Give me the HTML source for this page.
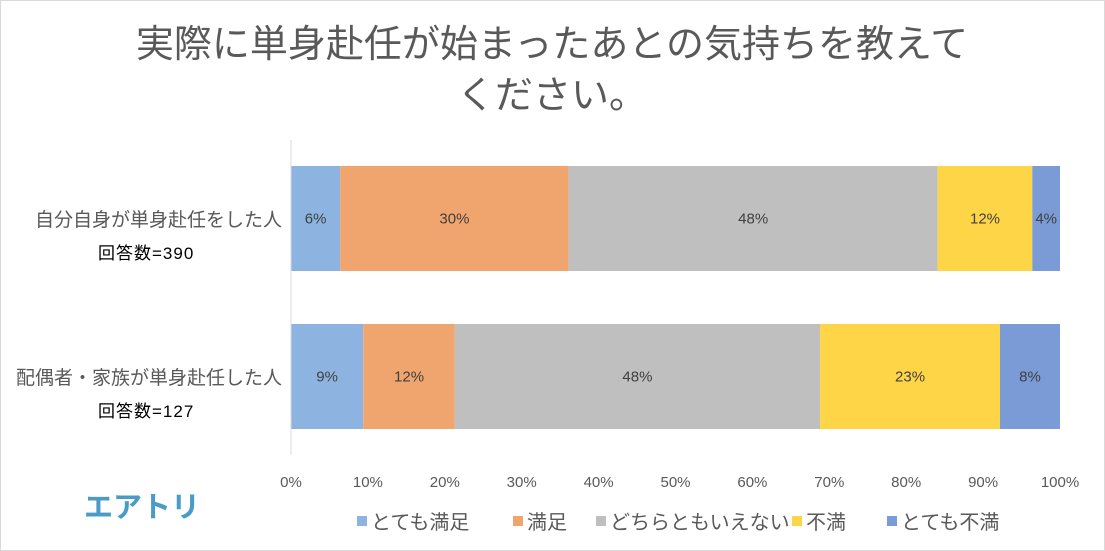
<!DOCTYPE html>
<html><head><meta charset="utf-8"><style>
body{margin:0;width:1105px;height:551px;background:#fff;overflow:hidden;font-family:"Liberation Sans","Noto Sans CJK JP",sans-serif}
#frame{position:absolute;left:0;top:0;width:1103px;height:549px;border:1px solid #d9d9d9}
</style></head><body>
<div id="frame"></div>
<svg id="c" width="1105" height="551" style="position:absolute;left:0;top:0">
<text x="552" y="57" text-anchor="middle" font-size="38" fill="#595959">実際に単身赴任が始まったあとの気持ちを教えて</text>
<text x="552" y="108" text-anchor="middle" font-size="38" fill="#595959">ください。</text>
<text x="142" y="517" text-anchor="middle" font-size="29" font-weight="bold" fill="#4a9cc6">エアトリ</text>
</svg>
<script>
const categories=["自分自身が単身赴任をした人","配偶者・家族が単身赴任した人"];
const counts=["回答数=390","回答数=127"];
const seriesNames=["とても満足","満足","どちらともいえない","不満","とても不満"];
const s1=[6.4,9.4];
const s2=[29.7,11.9];
const s3=[48.0,47.5];
const s4=[12.3,23.4];
const s5=[3.6,7.8];
const ticks=[0,10,20,30,40,50,60,70,80,90,100];
const colors=["#8db4e0","#f0a46e","#bfbfbf","#ffd548","#7a9bd6"];
const series=[s1,s2,s3,s4,s5];
const svg=document.getElementById('c');const NS="http://www.w3.org/2000/svg";
const x0=291,x1=1060;const xs=v=>x0+(x1-x0)*v/100;
const barY=[166,324],barH=105;
function mk(t,a){const e=document.createElementNS(NS,t);for(const k in a)e.setAttribute(k,a[k]);svg.appendChild(e);return e;}
categories.forEach((c,i)=>{
 let acc=0;
 series.forEach((s,j)=>{
  const v=s[i];
  const r=mk('rect',{x:xs(acc),y:barY[i],width:xs(acc+v)-xs(acc),height:barH,fill:colors[j]});
  
  
  const t=mk('text',{x:(xs(acc)+xs(acc+v))/2,y:barY[i]+barH/2+5,'text-anchor':'middle','font-size':15,fill:'#404040'});
  t.textContent=Math.round(v)+'%';
  
  
  acc+=v;
 });
 const l=mk('text',{x:282,y:barY[i]+60,'text-anchor':'end','font-size':19,fill:'#595959'});
 l.textContent=c;
 
 
 const n=mk('text',{x:98,y:barY[i]+93,'font-size':17,fill:'#000','letter-spacing':'1'});
 n.textContent=counts[i];
 
 
});
const ax=mk('line',{x1:x0,x2:x0,y1:140,y2:455,stroke:'#d9d9d9','stroke-width':1});


ticks.forEach(v=>{
 const t=mk('text',{x:xs(v),y:487,'text-anchor':'middle','font-size':15,fill:'#595959'});
 t.textContent=v+'%';
 
 
});
const lx=[357,513,596,792,887];
seriesNames.forEach((n,j)=>{
 const r=mk('rect',{x:lx[j],y:516,width:10,height:10,fill:colors[j]});
 
 
 const t=mk('text',{x:lx[j]+14,y:529,'font-size':20,fill:'#595959'});
 t.textContent=n;
 
 
});
</script>
</body></html>
